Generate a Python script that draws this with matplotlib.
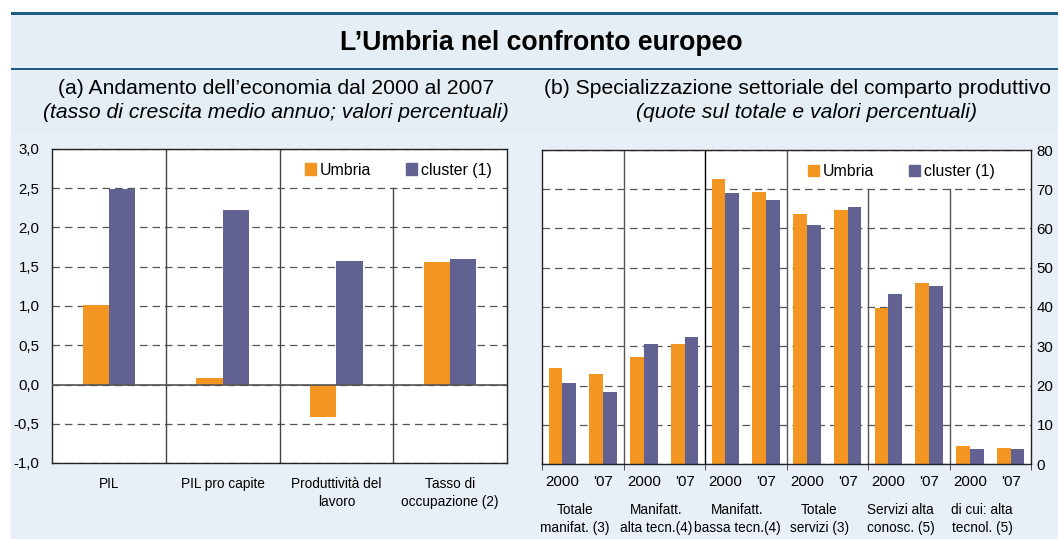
import numpy as np
import matplotlib.pyplot as plt
from matplotlib.patches import Rectangle, Patch
from matplotlib.ticker import FixedLocator

plt.rcParams['font.family'] = ['Liberation Sans', 'DejaVu Sans']

# panel (a): average annual growth 2000-2007
indicators = ['PIL', 'PIL pro capite', 'Produttività del\nlavoro', 'Tasso di\noccupazione (2)']
growth_umbria = [1.01, 0.08, -0.42, 1.56]
growth_cluster = [2.49, 2.22, 1.57, 1.60]

# panel (b): sector shares, 2000 and 2007
sectors = ['Totale\nmanifat. (3)', 'Manifatt.\nalta tecn.(4)', 'Manifatt.\nbassa tecn.(4)',
           'Totale\nservizi (3)', 'Servizi alta\nconosc. (5)', 'di cui: alta\ntecnol. (5)']
years = ['2000', "'07"]
share_umbria = [24.5, 23.0, 27.3, 30.6, 72.6, 69.3, 63.7, 64.7, 39.8, 46.1, 4.6, 4.1]
share_cluster = [20.7, 18.4, 30.6, 32.4, 69.0, 67.3, 60.9, 65.5, 43.3, 45.4, 3.9, 3.9]

ORANGE = '#F39621'
PURPLE = '#616192'
NAVY = '#1F5C85'
W, H = 1058, 539


def box(x0, y0, x1, y1):
    # pixel box (top-left origin) -> figure fraction rect
    return [x0 / W, 1 - y1 / H, (x1 - x0) / W, (y1 - y0) / H]


fig = plt.figure(figsize=(W / 100, H / 100), dpi=100)
fig.patch.set_facecolor('white')

# background panel and header lines
bg = fig.add_axes([0, 0, 1, 1], zorder=-10)
bg.set_xlim(0, W)
bg.set_ylim(H, 0)
bg.axis('off')
bg.add_patch(Rectangle((11, 12), W - 11, H - 12, color='#E6EEF5', lw=0))
bg.add_patch(Rectangle((11, 133), W - 11, H - 133, color='#E8EFF6', lw=0))
bg.add_patch(Rectangle((11, 12), W - 11, 3, color=NAVY, lw=0))
bg.add_patch(Rectangle((11, 67.5), W - 11, 2.2, color=NAVY, lw=0))

fig.text(541 / W, 1 - 43 / H, 'L\u2019Umbria nel confronto europeo', ha='center', va='center',
         fontsize=19.2, fontweight='bold')
fig.text(276 / W, 1 - 89 / H, '(a) Andamento dell\u2019economia dal 2000 al 2007', ha='center',
         va='center', fontsize=15.2)
fig.text(276 / W, 1 - 113 / H, '(tasso di crescita medio annuo; valori percentuali)', ha='center',
         va='center', fontsize=15.2, style='italic')
fig.text(797 / W, 1 - 89 / H, '(b) Specializzazione settoriale del comparto produttivo', ha='center',
         va='center', fontsize=15.2)
fig.text(807 / W, 1 - 113 / H, '(quote sul totale e valori percentuali)', ha='center',
         va='center', fontsize=15.2, style='italic')

grid_kw = dict(color='#555555', lw=0.9, linestyle=(0, (6, 4)))

# ---- panel (a)
ax1 = fig.add_axes(box(52, 149, 507, 463))
x1 = np.arange(len(indicators))
bw1 = 0.23
ax1.bar(x1 - bw1 / 2, growth_umbria, bw1, color=ORANGE, zorder=2)
ax1.bar(x1 + bw1 / 2, growth_cluster, bw1, color=PURPLE, zorder=2)
ax1.set_xlim(-0.5, len(indicators) - 0.5)
ax1.set_ylim(-1, 3)
yt1 = np.arange(-1, 3.01, 0.5)
ax1.set_yticks(yt1)
ax1.set_yticklabels([f'{v:.1f}'.replace('.', ',') for v in yt1])
ax1.set_axisbelow(True)
ax1.yaxis.grid(True, **grid_kw)
ax1.axhline(0, color='#555555', lw=1.2, zorder=3)
for xs in [0.5, 1.5]:
    ax1.axvline(xs, color='#444444', lw=1, zorder=1.5)
ax1.axvline(2.5, ymax=0.875, color='#444444', lw=1, zorder=1.5)
ax1.set_xticks(x1)
ax1.set_xticklabels(indicators, fontsize=9.8, linespacing=1.35)
ax1.tick_params(axis='x', length=0, pad=10)
ax1.tick_params(axis='y', length=0, pad=9, labelsize=10.8)
for s in ax1.spines.values():
    s.set_color('#222222')
    s.set_linewidth(1)

handles = [Patch(color=ORANGE, label='Umbria'), Patch(color=PURPLE, label='cluster (1)')]
leg_kw = dict(ncol=2, frameon=False, loc='center left', borderpad=0, borderaxespad=0,
              handlelength=0.7, handleheight=0.7, handletextpad=0.25, columnspacing=2.2,
              fontsize=11.4)
ax1.legend(handles=handles, bbox_to_anchor=(0.556, 0.933), **leg_kw)

# ---- panel (b)
ax2 = fig.add_axes(box(542, 150, 1031, 464))
n = len(share_umbria)
x2 = np.arange(n)
bw2 = 0.34
ax2.bar(x2 - bw2 / 2, share_umbria, bw2, color=ORANGE, zorder=2)
ax2.bar(x2 + bw2 / 2, share_cluster, bw2, color=PURPLE, zorder=2)
ax2.set_xlim(-0.5, n - 0.5)
ax2.set_ylim(0, 80)
ax2.set_yticks(np.arange(0, 81, 10))
ax2.yaxis.tick_right()
ax2.set_axisbelow(True)
ax2.yaxis.grid(True, **grid_kw)
for i, xs in enumerate(np.arange(1.5, n - 1, 2)):
    col = 'black' if i == 1 else '#555555'
    top = 0.875 if xs > 6 else 1
    ax2.axvline(xs, ymax=top, color=col, lw=1, zorder=1.5)
ax2.set_xticks(x2)
ax2.set_xticklabels(years * len(sectors), fontsize=10.8)
ax2.xaxis.set_minor_locator(FixedLocator(np.arange(-0.5, n, 2)))
ax2.tick_params(axis='x', which='major', length=0, pad=8)
ax2.tick_params(axis='x', which='minor', length=4, direction='out', color='#333333')
ax2.tick_params(axis='y', length=0, pad=4, labelsize=10.8)
for s in ax2.spines.values():
    s.set_color('#222222')
    s.set_linewidth(1)
for g, lab in enumerate(sectors):
    ax2.text(2 * g + 0.5 - 0.2, -0.125, lab, transform=ax2.get_xaxis_transform(),
             ha='center', va='top', fontsize=9.8, linespacing=1.35)
ax2.legend(handles=handles, bbox_to_anchor=(0.544, 0.931), **leg_kw)

fig.savefig('out.png', dpi=100)
